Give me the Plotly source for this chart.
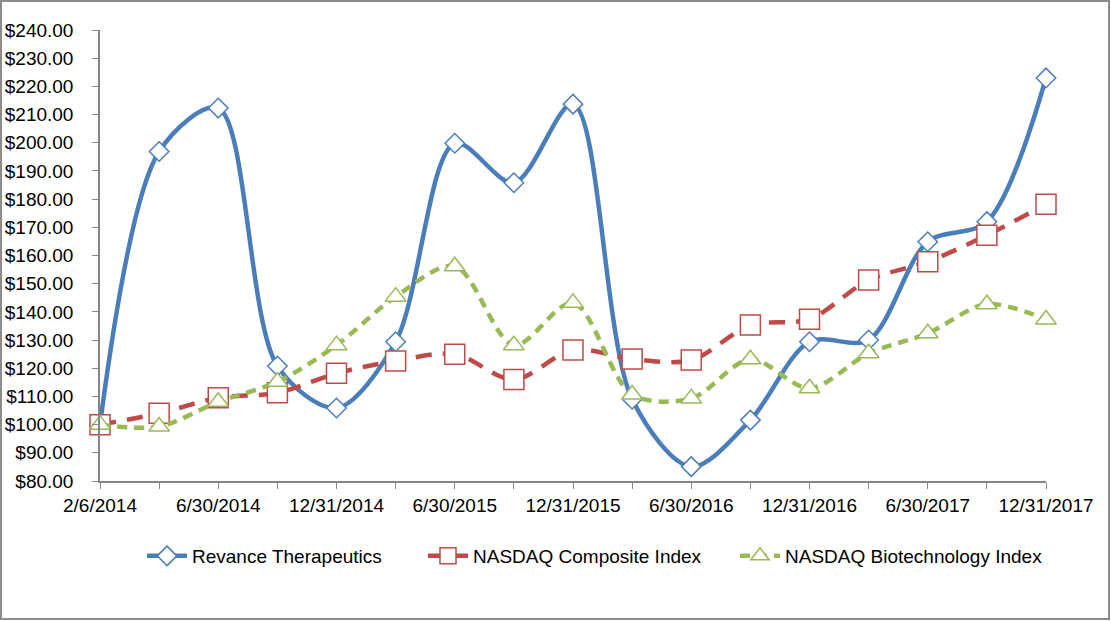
import plotly.graph_objects as go

dates = ["2/6/2014", "3/31/2014", "6/30/2014", "9/30/2014", "12/31/2014",
         "3/31/2015", "6/30/2015", "9/30/2015", "12/31/2015",
         "3/31/2016", "6/30/2016", "9/30/2016", "12/31/2016",
         "3/31/2017", "6/30/2017", "9/30/2017", "12/31/2017"]
revance = [100.0, 196.9, 212.3, 120.8, 105.9, 129.4, 199.8, 185.8, 213.7,
           109.0, 85.1, 101.6, 129.4, 130.0, 164.9, 172.0, 223.0]
composite = [100.0, 104.0, 109.5, 111.3, 118.2, 122.6, 125.0, 116.0, 126.5,
             123.3, 122.9, 135.3, 137.4, 151.3, 157.8, 167.2, 178.2]
biotech = [100.0, 99.3, 108.1, 115.2, 128.2, 145.4, 156.2, 128.2, 143.2,
           110.7, 109.3, 123.2, 112.9, 125.3, 132.4, 142.7, 137.3]
shown_labels = ["2/6/2014", "6/30/2014", "12/31/2014", "6/30/2015", "12/31/2015",
                "6/30/2016", "12/31/2016", "6/30/2017", "12/31/2017"]
y_ticks = list(range(80, 250, 10))

x = list(range(len(dates)))
ticktext = [d if d in shown_labels else "" for d in dates]

FONT = "Liberation Sans"
W, H = 1111, 621
ML, MR, MT, MB = 100, 65, 30, 140
pw = W - ML - MR
ph = H - MT - MB


def px_x(p):
    return (p - ML) / pw


def px_y(p):
    return (H - MB - p) / ph


fig = go.Figure()
fig.add_trace(go.Scatter(
    x=x, y=revance, name="Revance Therapeutics", mode="lines+markers",
    legend="legend", cliponaxis=False,
    line=dict(color="#4A7EBB", width=4.5, shape="spline", smoothing=0.9),
    marker=dict(symbol="diamond", size=15, color="white",
                line=dict(color="#4A7EBB", width=1.5)),
))
fig.add_trace(go.Scatter(
    x=x, y=composite, name="NASDAQ Composite Index", mode="lines+markers",
    legend="legend2", cliponaxis=False,
    line=dict(color="#BE4B48", width=4.5, shape="spline", smoothing=0.9, dash="16px,11px"),
    marker=dict(symbol="square", size=20, color="white",
                line=dict(color="#BE4B48", width=1.5)),
))
fig.add_trace(go.Scatter(
    x=x, y=biotech, name="NASDAQ Biotechnology Index", mode="lines+markers",
    legend="legend3", cliponaxis=False,
    line=dict(color="#98B954", width=4.5, shape="spline", smoothing=0.9, dash="10px,7px"),
    marker=dict(symbol="triangle-up", size=18, color="white",
                line=dict(color="#98B954", width=1.5)),
))

fig.add_shape(type="rect", xref="paper", yref="paper",
              x0=px_x(1), x1=px_x(W - 2),
              y0=px_y(H - 2), y1=px_y(1),
              line=dict(color="#8C8C8C", width=2), layer="below")

leg_common = dict(orientation="h", yanchor="middle", xanchor="left",
                  y=px_y(556), font=dict(family=FONT, size=19),
                  itemwidth=40, bgcolor="rgba(0,0,0,0)")

fig.update_layout(
    width=W, height=H,
    margin=dict(l=ML, r=MR, t=MT, b=MB, autoexpand=False),
    paper_bgcolor="white", plot_bgcolor="white",
    font=dict(family=FONT, size=19, color="#000000"),
    showlegend=True,
    legend=dict(x=px_x(142), **leg_common),
    legend2=dict(x=px_x(423), **leg_common),
    legend3=dict(x=px_x(735), **leg_common),
    xaxis=dict(range=[0, 16], tickmode="array", tickvals=x, ticktext=ticktext,
               showgrid=False, zeroline=False, showline=True, automargin=False,
               linecolor="#868686", linewidth=1.5, ticks="outside", ticklen=6,
               tickcolor="#868686", tickfont=dict(size=19), tickangle=0,
               fixedrange=True),
    yaxis=dict(range=[80, 240], tickmode="array", tickvals=y_ticks,
               ticktext=[f"${v:.2f}" for v in y_ticks],
               showgrid=False, zeroline=False, showline=True, automargin=False,
               linecolor="#868686", linewidth=1.5, ticks="outside", ticklen=6,
               tickcolor="#868686", tickfont=dict(size=19), fixedrange=True,
               ticklabelstandoff=15),
)

fig.write_html("out.html", config={"displayModeBar": False},
               post_script="document.body.style.margin='0';document.body.style.overflow='hidden';")
